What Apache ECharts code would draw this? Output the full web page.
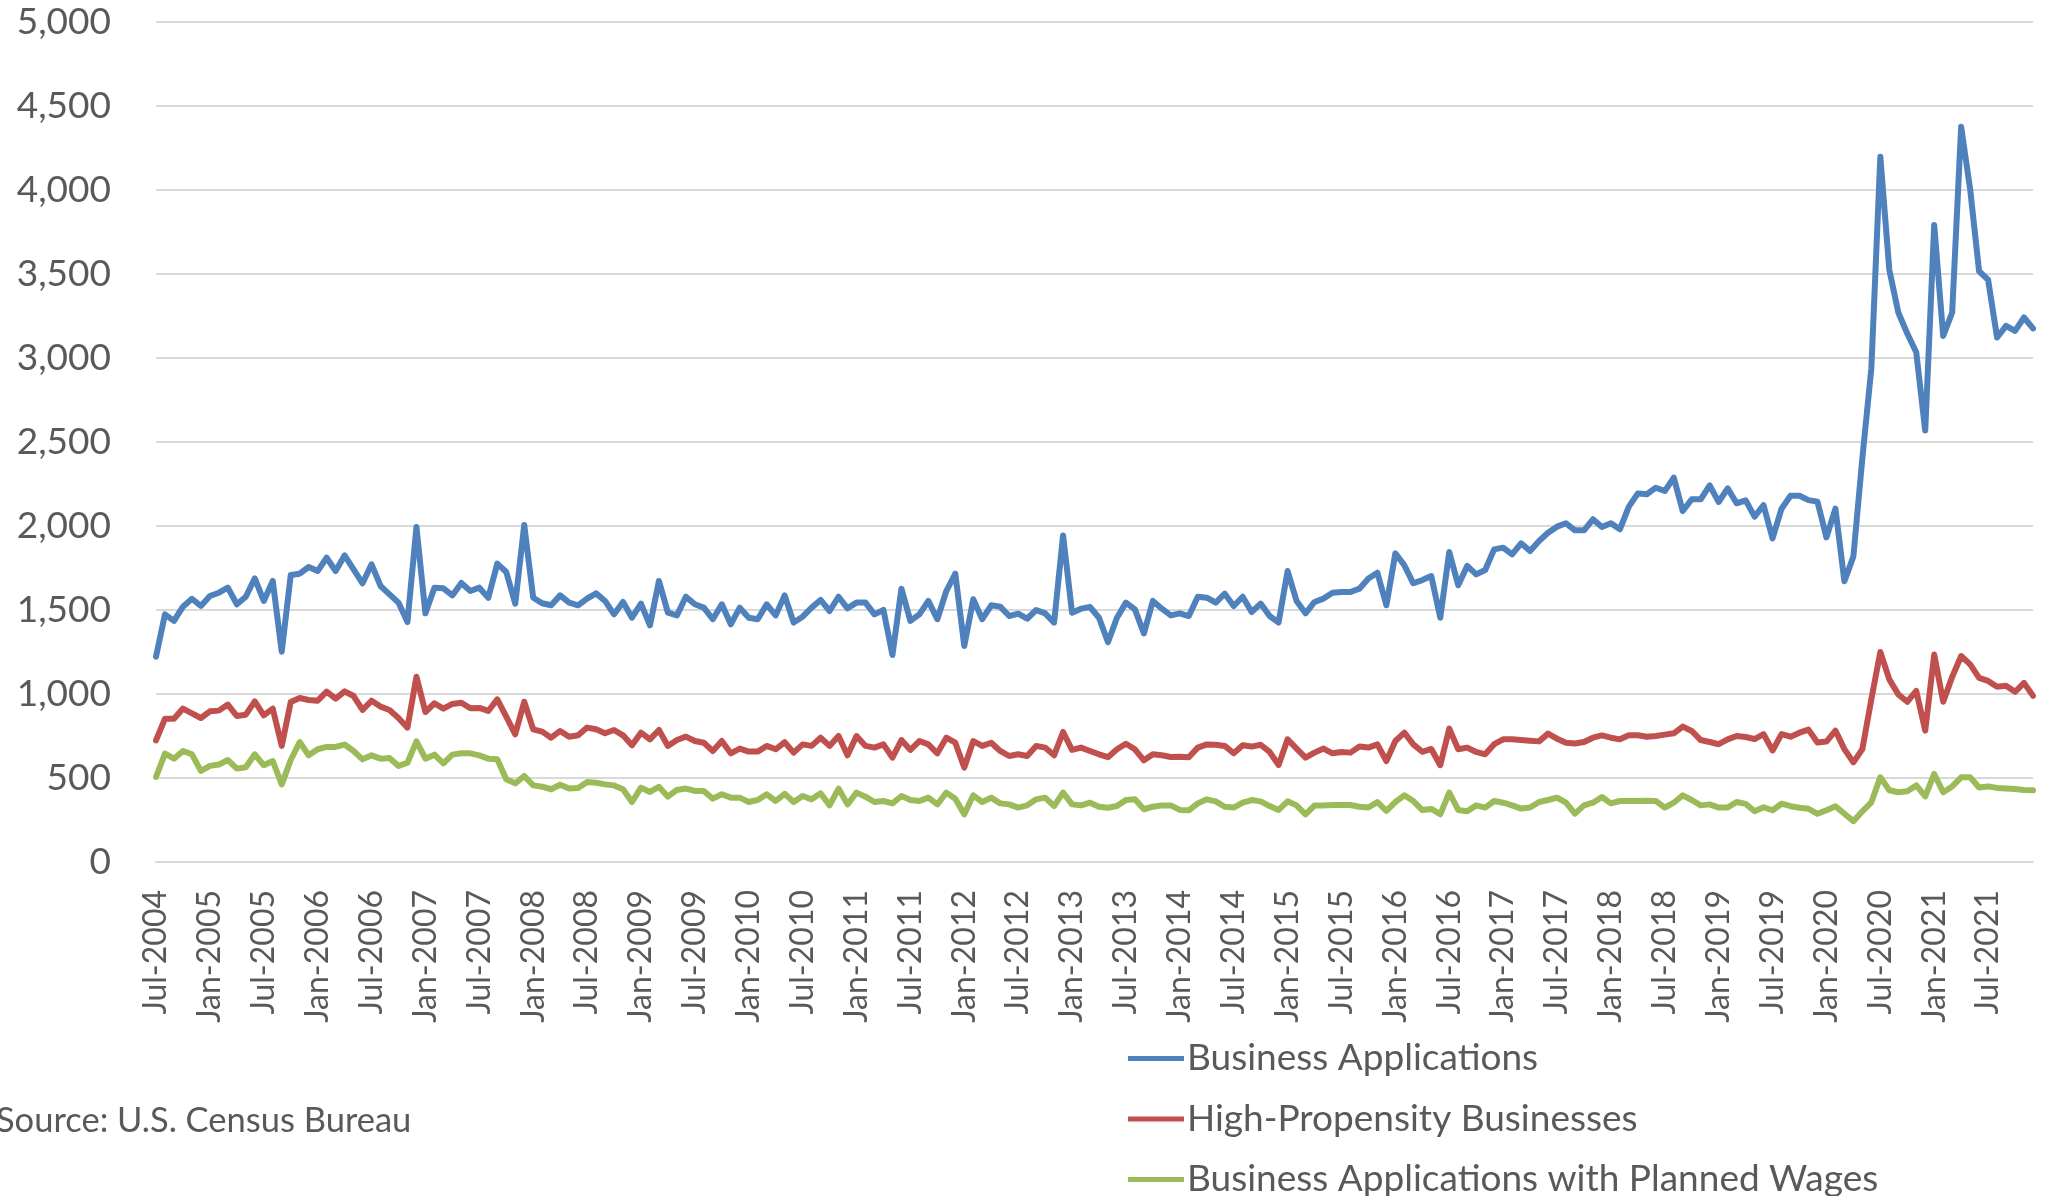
<!DOCTYPE html>
<html>
<head>
<meta charset="utf-8">
<title>Business Formation Statistics</title>
<script src="https://cdn.jsdelivr.net/npm/echarts@6/dist/echarts.min.js"></script>
<style>
  html, body { margin: 0; padding: 0; background: #ffffff; }
  #chart { width: 2052px; height: 1196px; }
</style>
</head>
<body>
<div id="chart"></div>
<script>
// Monthly series, Jul-2004 through Dec-2021
const monthNames = ['Jan', 'Feb', 'Mar', 'Apr', 'May', 'Jun', 'Jul', 'Aug', 'Sep', 'Oct', 'Nov', 'Dec'];
const startYear = 2004, startMonth = 6, endYear = 2021, endMonth = 11;

const businessApplications = [
  1222, 1474, 1435, 1520, 1567, 1524, 1583, 1603, 1633, 1534, 1579, 1688,
  1554, 1673, 1252, 1708, 1716, 1756, 1732, 1811, 1732, 1825, 1742, 1659,
  1772, 1643, 1593, 1544, 1429, 1994, 1480, 1633, 1629, 1587, 1661, 1613,
  1633, 1573, 1776, 1726, 1538, 2006, 1573, 1540, 1528, 1587, 1544, 1528,
  1568, 1599, 1554, 1474, 1548, 1454, 1538, 1409, 1673, 1484, 1468, 1579,
  1534, 1514, 1445, 1534, 1415, 1514, 1454, 1445, 1534, 1468, 1587, 1425,
  1460, 1514, 1560, 1494, 1579, 1510, 1544, 1544, 1474, 1500, 1232, 1627,
  1435, 1474, 1554, 1445, 1613, 1716, 1286, 1564, 1445, 1528, 1520, 1464,
  1478, 1448, 1500, 1480, 1425, 1944, 1484, 1508, 1518, 1454, 1308, 1454,
  1544, 1504, 1361, 1554, 1508, 1468, 1480, 1464, 1579, 1573, 1544, 1597,
  1524, 1579, 1488, 1538, 1464, 1425, 1732, 1554, 1480, 1548, 1568, 1603,
  1607, 1607, 1627, 1687, 1722, 1528, 1837, 1766, 1659, 1678, 1702, 1454,
  1845, 1647, 1762, 1712, 1738, 1861, 1871, 1831, 1897, 1851, 1911, 1960,
  1996, 2016, 1974, 1974, 2040, 1994, 2016, 1980, 2115, 2194, 2189, 2228,
  2208, 2288, 2089, 2159, 2159, 2242, 2143, 2224, 2135, 2153, 2056, 2124,
  1926, 2103, 2180, 2180, 2154, 2145, 1932, 2103, 1671, 1819, 2405, 2939,
  4198, 3525, 3271, 3146, 3034, 2568, 3792, 3131, 3271, 4376, 4005, 3516,
  3466, 3122, 3191, 3161, 3241, 3176
];

const highPropensity = [
  724, 853, 853, 913, 885, 857, 897, 901, 937, 869, 877, 956,
  873, 913, 691, 952, 976, 964, 960, 1014, 972, 1016, 988, 905,
  960, 925, 905, 857, 800, 1103, 893, 945, 913, 941, 948, 915,
  917, 899, 968, 865, 760, 954, 790, 776, 740, 780, 746, 754,
  800, 790, 766, 786, 754, 695, 770, 730, 786, 691, 726, 746,
  720, 710, 661, 720, 647, 675, 657, 657, 691, 671, 713, 651,
  700, 691, 740, 691, 750, 635, 750, 691, 681, 700, 621, 726,
  667, 720, 700, 647, 740, 710, 562, 720, 691, 710, 661, 631,
  641, 631, 691, 681, 635, 774, 667, 681, 661, 641, 624, 671,
  704, 671, 605, 641, 635, 625, 627, 623, 681, 700, 698, 691,
  647, 695, 687, 698, 655, 577, 730, 675, 621, 651, 675, 647,
  655, 651, 687, 681, 700, 601, 720, 770, 700, 656, 673, 576,
  794, 671, 681, 655, 641, 701, 730, 730, 726, 722, 718, 764,
  734, 710, 705, 714, 740, 754, 740, 730, 754, 754, 746, 750,
  758, 766, 806, 780, 726, 714, 701, 730, 750, 744, 732, 761,
  664, 761, 746, 770, 788, 711, 717, 782, 672, 593, 672, 969,
  1250, 1087, 998, 954, 1019, 782, 1235, 954, 1102, 1226, 1176, 1096,
  1078, 1043, 1049, 1013, 1066, 989
];

const plannedWages = [
  506, 645, 615, 661, 641, 542, 572, 580, 607, 556, 564, 641,
  576, 601, 462, 607, 714, 635, 671, 685, 685, 699, 661, 611,
  635, 615, 619, 572, 591, 718, 615, 639, 587, 639, 647, 647,
  635, 615, 611, 492, 468, 512, 456, 448, 433, 460, 437, 441,
  476, 472, 462, 456, 433, 357, 443, 417, 448, 389, 429, 437,
  423, 423, 377, 403, 383, 383, 357, 369, 403, 363, 406, 357,
  393, 373, 409, 337, 437, 343, 413, 389, 357, 363, 349, 393,
  369, 363, 383, 343, 413, 377, 284, 397, 357, 383, 349, 343,
  324, 337, 373, 383, 333, 413, 343, 337, 353, 329, 323, 333,
  369, 373, 314, 329, 337, 337, 310, 308, 349, 373, 361, 329,
  324, 353, 369, 361, 333, 310, 361, 337, 284, 337, 337, 339,
  339, 339, 329, 324, 357, 304, 357, 397, 363, 309, 316, 284,
  413, 310, 302, 337, 324, 363, 353, 337, 318, 324, 357, 369,
  383, 353, 288, 337, 353, 387, 349, 363, 363, 363, 365, 363,
  324, 353, 397, 369, 337, 343, 324, 324, 357, 346, 302, 326,
  308, 347, 332, 323, 317, 287, 308, 332, 287, 243, 302, 355,
  504, 427, 415, 421, 456, 391, 524, 415, 450, 504, 504, 444,
  450, 441, 438, 435, 429, 427
];

const seriesNames = [
  'Business Applications',
  'High-Propensity Businesses',
  'Business Applications with Planned Wages'
];
const yTicks = { min: 0, max: 5000, step: 500 };
const sourceNote = 'Source: U.S. Census Bureau';

// Category labels such as "Jul-2004"
const months = [];
for (let y = startYear; y <= endYear; y++) {
  const m0 = (y === startYear) ? startMonth : 0;
  const m1 = (y === endYear) ? endMonth : 11;
  for (let m = m0; m <= m1; m++) months.push(monthNames[m] + '-' + y);
}

const FONT = 'Lato, "Open Sans", sans-serif';
const TEXT_COLOR = '#595959';
const GRID_COLOR = '#d9d9d9';
const COLORS = ['#4f81bd', '#c0504d', '#9bbb59'];

const chart = echarts.init(document.getElementById('chart'), null, { renderer: 'canvas' });

function lineSeries(name, data, color) {
  return {
    name: name,
    type: 'line',
    data: data,
    symbol: 'none',
    smooth: false,
    lineStyle: { color: color, width: 6, cap: 'round', join: 'round' },
    itemStyle: { color: color },
    emphasis: { disabled: true }
  };
}

chart.setOption({
  animation: false,
  backgroundColor: '#ffffff',
  color: COLORS,
  grid: { left: 156, right: 19, top: 22, bottom: 334, containLabel: false },
  xAxis: {
    type: 'category',
    data: months,
    boundaryGap: false,
    axisLine: { show: true, lineStyle: { color: GRID_COLOR, width: 2 } },
    axisTick: { show: false },
    axisLabel: {
      interval: 5,
      rotate: 90,
      margin: 28,
      color: TEXT_COLOR,
      fontFamily: FONT,
      fontSize: 32
    },
    splitLine: { show: false }
  },
  yAxis: {
    type: 'value',
    min: yTicks.min,
    max: yTicks.max,
    interval: yTicks.step,
    axisLine: { show: false },
    axisTick: { show: false },
    axisLabel: {
      margin: 45,
      color: TEXT_COLOR,
      fontFamily: FONT,
      fontSize: 37,
      formatter: v => v.toLocaleString('en-US')
    },
    splitLine: { show: true, lineStyle: { color: GRID_COLOR, width: 2 } }
  },
  legend: {
    orient: 'vertical',
    left: 1123,
    top: 1035,
    height: 400,
    itemWidth: 56,
    itemHeight: 14,
    itemGap: 23.5,
    icon: 'path://M0,0 L56,0 L56,5 L0,5 Z',
    textStyle: { color: TEXT_COLOR, fontFamily: FONT, fontSize: 37, padding: [0, 0, 0, -2] },
    data: seriesNames
  },
  graphic: [{
    type: 'text',
    left: -4,
    top: 1103,
    style: {
      text: sourceNote,
      fill: TEXT_COLOR,
      font: '34.5px ' + FONT
    }
  }],
  series: [
    lineSeries(seriesNames[0], businessApplications, COLORS[0]),
    lineSeries(seriesNames[1], highPropensity, COLORS[1]),
    lineSeries(seriesNames[2], plannedWages, COLORS[2])
  ]
});
</script>
</body>
</html>
